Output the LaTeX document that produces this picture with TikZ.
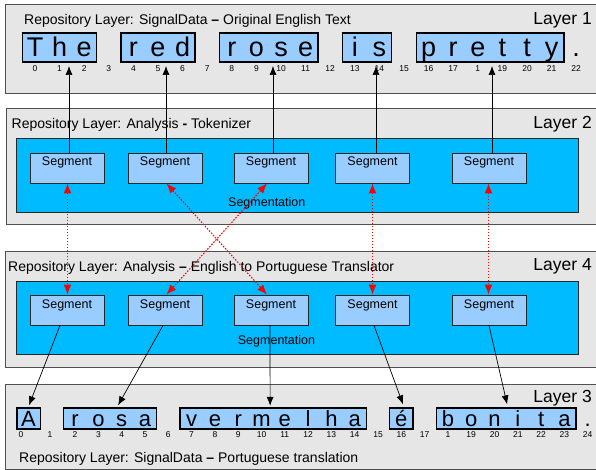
\documentclass[tikz,border=0pt]{standalone}
\usepackage{fontspec}
\setmainfont{Liberation Sans}
\usetikzlibrary{arrows.meta}
\definecolor{layerfill}{HTML}{E6E6E6}
\definecolor{layerdraw}{HTML}{505050}
\definecolor{segblue}{HTML}{00BBFF}
\definecolor{seglight}{HTML}{99CCFF}
\begin{document}
\begin{tikzpicture}[x=1pt,y=-1pt,
  layerbox/.style={draw=layerdraw, fill=layerfill, line width=0.8pt, inner sep=0, anchor=north west},
  bluebox/.style={draw=black!85, fill=segblue, line width=0.8pt, inner sep=0, anchor=north west},
  segbox/.style={draw=black!85, fill=seglight, line width=0.8pt, minimum width=74pt, inner xsep=0, inner ysep=4pt, text height=9pt, text depth=13pt, font=\fontsize{12.5}{14}\selectfont},
  wordbox/.style={draw=black, fill=seglight, line width=1.3pt, inner sep=0},
  biglet/.style={anchor=base, inner sep=0, font=\fontsize{27}{30}\selectfont},
  smalllet/.style={anchor=base, inner sep=0, font=\fontsize{22}{25}\selectfont},
  num/.style={inner sep=0, font=\fontsize{8.5}{10}\selectfont},
  ttl/.style={anchor=base west, inner sep=0, font=\fontsize{14}{16}\selectfont},
  laylabel/.style={anchor=base east, inner sep=0, font=\fontsize{17.5}{20}\selectfont},
  segtxt/.style={anchor=base west, inner sep=0, font=\fontsize{12.5}{14}\selectfont},
  blk/.style={draw=black, line width=0.7pt, -{Latex[length=9pt,width=7pt]}},
  rdd/.style={draw=red, line width=1.1pt, dash pattern=on 1.5pt off 1.5pt, {Latex[length=10pt,width=8pt]}-{Latex[length=10pt,width=8pt]}}
]
\useasboundingbox (0,0) rectangle (596,470);

% layer boxes
\node[layerbox, minimum width=600pt, minimum height=88.5pt] (L1) at (5,4.5) {};
\node[layerbox, minimum width=600pt, minimum height=115.5pt] (L2) at (5.5,108.5) {};
\node[layerbox, minimum width=600pt, minimum height=116pt] (L4) at (5,251) {};
\node[layerbox, minimum width=600pt, minimum height=85pt] (L3) at (4.5,384) {};

% blue segmentation boxes
\node[bluebox, minimum width=562pt, minimum height=74pt] (B2) at (16,138) {};
\node[bluebox, minimum width=562pt, minimum height=73pt] (B4) at (16,281) {};

% titles
\node[ttl] (T1) at (24,24.5) {Repository Layer: SignalData \textbf{–} Original English Text};
\node[laylabel] (N1) at (592,25) {Layer 1};
\node[ttl] (T2) at (11.5,128.3) {Repository Layer: Analysis \textbf{-} Tokenizer};
\node[laylabel] (N2) at (592,128.3) {Layer 2};
\node[ttl] (T4) at (8,271.7) {Repository Layer: Analysis \textbf{–} English to Portuguese Translator};
\node[laylabel] (N4) at (592,270) {Layer 4};
\node[laylabel] (N3) at (592,402.7) {Layer 3};
\node[ttl] (T3) at (19,462.7) {Repository Layer: SignalData \textbf{–} Portuguese translation};

\node[segtxt] (S2) at (228,206.7) {Segmentation};
\node[segtxt] (S4) at (237.7,344) {Segmentation};

% segments
\foreach \i/\x in {1/67,2/165,3/271,4/372.5,5/489} {
  \node[segbox] (a\i) at (\x,168) {Segment};
  \node[segbox] (b\i) at (\x,310) {Segment};
}

% layer 1 word boxes
\foreach \a/\b/\nm in {0/2/The,4/6/red,8/11/rose,13/14/is,16/21/pretty} {
  \pgfmathsetmacro{\w}{24.6*(\b-\a+1)}
  \pgfmathsetmacro{\cx}{35+12.3*(\a+\b)}
  \node[wordbox, minimum width=\w pt, minimum height=29pt] (w\nm) at (\cx,47.5) {};
}
\foreach \n/\c in {0/T,1/h,2/e,4/r,5/e,6/d,8/r,9/o,10/s,11/e,13/i,14/s,16/p,17/r,18/e,19/t,20/t,21/y,22/.} {
  \node[biglet] (e\n) at ({35+24.6*\n},56.7) {\c};
}
\foreach \n/\t in {0/0,1/1,2/2,3/3,4/4,5/5,6/6,7/7,8/8,9/9,10/10,11/11,12/12,13/13,14/14,15/15,16/16,17/17,18/1,19/19,20/20,21/21,22/22} {
  \node[num] (en\n) at ({35+24.6*\n},68.5) {\t};
}

% layer 3 word boxes
\foreach \a/\b/\nm in {0/0/A,2/5/rosa,7/14/vermelha,16/16/e,18/23/bonita} {
  \pgfmathsetmacro{\w}{23.3*(\b-\a+1)}
  \pgfmathsetmacro{\cx}{28.5+11.65*(\a+\b)}
  \node[wordbox, minimum width=\w pt, minimum height=21pt] (p\nm) at (\cx,418.5) {};
}
\foreach \n/\c in {0/A,2/r,3/o,4/s,5/a,7/v,8/e,9/r,10/m,11/e,12/l,13/h,14/a,16/é,18/b,19/o,20/n,21/i,22/t,23/a,24/.} {
  \node[smalllet] (q\n) at ({28.5+23.3*\n},426) {\c};
}
\node[num] (pn0) at (21,435) {0};
\node[num] (pn1) at (50,435) {1};
\foreach \n/\t in {2/2,3/3,4/4,5/5,6/6,7/7,8/8,9/9,10/10,11/11,12/12,13/13,14/14,15/15,16/16,17/17,18/1,19/19,20/20,21/21,22/22,23/23,24/24} {
  \node[num] (pn\n) at ({28.5+23.3*\n},435) {\t};
}

% arrows layer 2 -> layer 1
\coordinate (t1) at (69,66);
\coordinate (t2) at (166,66);
\coordinate (t3) at (273,66);
\coordinate (t4) at (376,66);
\coordinate (t5) at (492,66);
\foreach \i in {1,...,5} {
  \draw[blk] (a\i.north -| t\i) -- (t\i);
}

% red dotted double arrows layer 2 <-> layer 4
\draw[rdd] ([xshift=0.5pt]a1.south) -- ([xshift=0.5pt]b1.north);
\draw[rdd] ([xshift=1.5pt]a2.south) -- ([xshift=-4pt]b3.north);
\draw[rdd] ([xshift=-4pt]a3.south) -- ([xshift=1.5pt]b2.north);
\draw[rdd] (a4.south) -- (b4.north);
\draw[rdd] ([xshift=-0.5pt]a5.south) -- ([xshift=-0.5pt]b5.north);

% arrows layer 4 -> layer 3
\draw[blk] ([xshift=-7pt]b1.south) -- ([xshift=0.5pt,yshift=2pt]pA.north);
\draw[blk] ([xshift=-2pt]b2.south) -- ([xshift=8pt,yshift=2pt]prosa.north);
\draw[blk] ([xshift=-1pt]b3.south) -- ([xshift=-3pt,yshift=1.5pt]pvermelha.north);
\draw[blk] ([xshift=1.5pt]b4.south) -- ([xshift=1.7pt,yshift=3pt]pe.north);
\draw[blk] (b5.south) -- ([xshift=1pt,yshift=3pt]pbonita.north);
\end{tikzpicture}
\end{document}
